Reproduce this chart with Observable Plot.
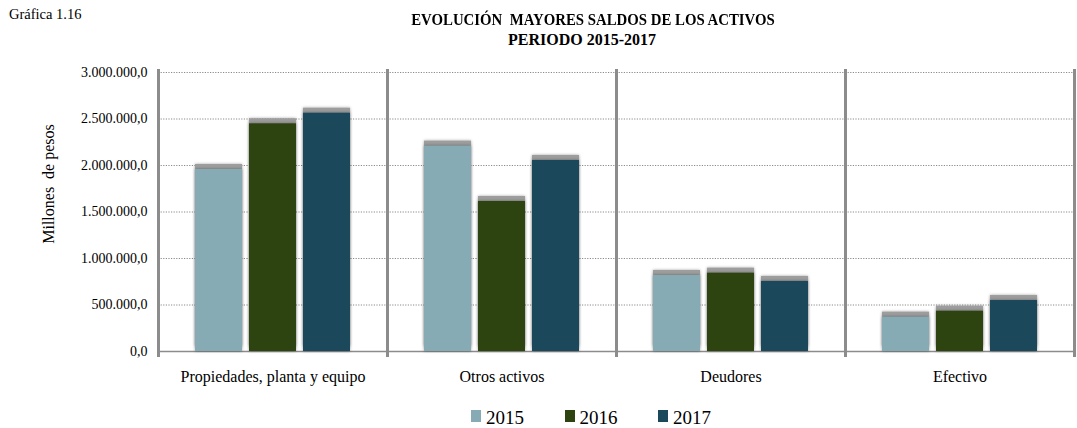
<!DOCTYPE html>
<html><head><meta charset="utf-8">
<script src="https://cdn.jsdelivr.net/npm/d3@7"></script>
<script src="https://cdn.jsdelivr.net/npm/@observablehq/plot@0.6"></script>
<style>
html,body{margin:0;padding:0;background:#fff;}
body{width:1077px;height:428px;position:relative;overflow:hidden;font-family:"Liberation Serif","Times New Roman",serif;color:#000;}
.abs{position:absolute;line-height:1;white-space:pre;}
.title{font-weight:bold;font-size:16px;text-align:center;width:600px;}
#chart{position:absolute;left:0;top:55px;}
#chart g[aria-label="bar"] rect{filter:drop-shadow(0 0 1.5px rgba(0,0,0,0.35));}
.sw{position:absolute;width:10px;height:12px;}
.lg{position:absolute;font-size:19px;line-height:1;}
</style>
</head>
<body>
<div class="abs" style="left:9px;top:7px;font-size:14.5px;">Gráfica 1.16</div>
<div class="abs title" style="left:293px;top:12px;transform:scaleX(0.926);transform-origin:300px 50%;">EVOLUCIÓN  MAYORES SALDOS DE LOS ACTIVOS</div>
<div class="abs title" style="left:282px;top:32px;">PERIODO 2015-2017</div>
<div id="chart"></div>
<div id="legend"></div>
<script>
const categories = ["Propiedades, planta y equipo", "Otros activos", "Deudores", "Efectivo"];
const years = ["2015", "2016", "2017"];
const v2015 = [1957000, 2208000, 817000, 369000];
const v2016 = [2448000, 1613000, 842000, 433000];
const v2017 = [2562000, 2054000, 753000, 548000];
const yTicks = [0, 500000, 1000000, 1500000, 2000000, 2500000, 3000000];
const colors = ["#86abb5", "#2d4310", "#1b485b"];
const yLabel = "Millones  de pesos";

const series = [v2015, v2016, v2017];
const data = [];
categories.forEach((c, i) => years.forEach((y, j) => data.push({cat: c, year: y, value: series[j][i]})));

const loc = d3.formatLocale({decimal: ",", thousands: ".", grouping: [3], currency: ["", ""]});
const fmt = loc.format(",.1f");

const chart = Plot.plot({
  width: 1077,
  height: 336,
  marginTop: 17,
  marginBottom: 40,
  marginLeft: 157,
  marginRight: 2,
  style: {fontFamily: "Liberation Serif, Times New Roman, serif", color: "#000", background: "#fff"},
  fx: {domain: categories, padding: 0, label: null},
  x: {domain: years, paddingInner: 0.127, paddingOuter: 0.655, axis: null},
  y: {domain: [0, 3000000], label: null},
  color: {domain: years, range: colors},
  marks: [
    Plot.gridY(yTicks, {stroke: "#8a8a8a", strokeOpacity: 1, strokeDasharray: "1.2,1.4", strokeWidth: 1}),
    Plot.ruleY([0], {stroke: "#8c8c8c", strokeWidth: 1.5}),
    Plot.frame({anchor: "left", stroke: "#8c8c8c", strokeWidth: 3, insetTop: -2, insetBottom: -4}),
    Plot.frame({anchor: "right", stroke: "#8c8c8c", strokeWidth: 3, insetTop: -2, insetBottom: -4}),
    Plot.barY(data, {fx: "cat", x: "year", y: "value", fill: "#9d9d9d", dy: -5}),
    Plot.barY(data, {fx: "cat", x: "year", y: "value", fill: "year"}),
    Plot.axisY(yTicks, {tickFormat: fmt, tickSize: 0, tickPadding: 11, fontSize: 14, label: null}),
    Plot.axisFx({anchor: "bottom", tickSize: 0, tickPadding: 19, fontSize: 16, label: null})
  ]
});
document.getElementById("chart").appendChild(chart);

d3.select(chart).append("text")
  .attr("transform", "translate(54,129) rotate(-90)")
  .attr("text-anchor", "middle")
  .attr("font-size", 16)
  .attr("fill", "#000")
  .style("white-space", "pre")
  .text(yLabel);

const legend = document.getElementById("legend");
years.forEach((y, i) => {
  const left = 471 + i * 93.5;
  const sw = document.createElement("div");
  sw.className = "sw";
  sw.style.left = left + "px";
  sw.style.top = "410px";
  sw.style.background = colors[i];
  legend.appendChild(sw);
  const t = document.createElement("div");
  t.className = "lg";
  t.style.left = (left + 15) + "px";
  t.style.top = "408px";
  t.textContent = y;
  legend.appendChild(t);
});
</script>
</body></html>
